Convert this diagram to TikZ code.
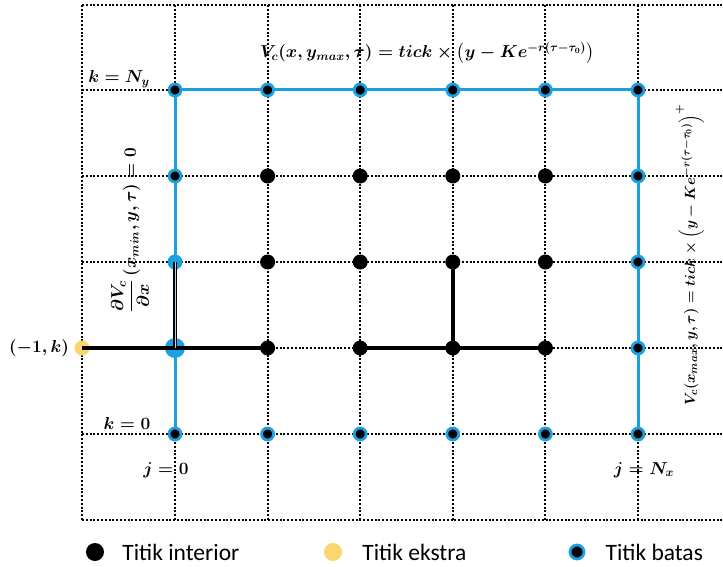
\documentclass[tikz,border=0pt]{standalone}
\usepackage{amsmath}
\usepackage{fontspec}
\newfontfamily\legendfont{Carlito}
\usetikzlibrary{positioning}
\definecolor{batasbiru}{RGB}{27,161,226}
\definecolor{ekstrakuning}{RGB}{250,214,110}
\pgfdeclarelayer{edges}
\pgfsetlayers{edges,main}

\begin{document}
\begin{tikzpicture}[x=1pt,y=-1pt,
  gridline/.style={line width=2pt,dash pattern=on 2pt off 1.8pt},
  interior/.style={circle,fill=black,inner sep=0pt,minimum size=15pt},
  batas/.style={circle,fill=black,draw=batasbiru,line width=2.8pt,inner sep=0pt,minimum size=12pt},
  bataspenuh/.style={circle,fill=batasbiru,inner sep=0pt,minimum size=15pt},
  ekstra/.style={circle,fill=ekstrakuning,inner sep=0pt,minimum size=15pt},
  batasline/.style={batasbiru,line width=3pt},
  stencil/.style={black,line width=4.5pt},
  lbl/.style={font=\fontsize{17}{20}\selectfont\boldmath,inner sep=1pt},
  lblpanjang/.style={font=\fontsize{16.5}{20}\selectfont\boldmath,inner sep=1pt},
  legend/.style={font=\fontsize{23.5}{27}\selectfont\legendfont,anchor=west,inner sep=0pt}]
\useasboundingbox (0,0) rectangle (723,567);
% dotted grid
\begin{pgfonlayer}{edges}
\foreach \xx in {82,175,267.6,360.2,452.8,545.4,638}
  \draw[gridline] (\xx,5) -- (\xx,520);
\foreach \yy in {5,90,176,262,348,434,520}
  \draw[gridline] (82,\yy) -- (723,\yy);
\end{pgfonlayer}
% grid points
\foreach \j in {1,...,4}
  \foreach \k in {1,2,3}
    \node[interior] (p-\j-\k) at ({175+92.6*\j},{434-86*\k}) {};
\foreach \j in {0,...,5} {
  \node[batas] (p-\j-0) at ({175+92.6*\j},434) {};
  \node[batas] (p-\j-4) at ({175+92.6*\j},90) {};
}
\foreach \k in {1,2,3}
  \node[batas] (p-5-\k) at (638,{434-86*\k}) {};
\node[batas] (p-0-3) at (175,176) {};
\node[bataspenuh] (p-0-2) at (175,262) {};
\node[bataspenuh,minimum size=20pt] (p-0-1) at (175,348) {};
\node[ekstra] (p-x-1) at (82,348) {};
% boundary
\begin{pgfonlayer}{edges}
\draw[batasline] (p-0-0.center) -- (p-0-4.center) -- (p-5-4.center) -- (p-5-0.center);
\end{pgfonlayer}
% stencils
\draw[stencil] (p-x-1.center) -- (p-1-1.center);
\draw[black,line width=1.5pt,double=batasbiru!40,double distance=0.8pt] (p-0-2.center) -- (p-0-1.center);
\draw[stencil] (p-2-1.center) -- (p-4-1.center);
\draw[stencil] (p-3-2.center) -- (p-3-1.center);
% labels
\node[lblpanjang] (atas) at (427,53) {$V_c(x, y_{max}, \tau) = tick \times \left(y - Ke^{-r(\tau-\tau_0)}\right)$};
\node[lbl] (kny) at (119,79) {$k = N_y$};
\node[lbl] (k0) at (127,423) {$k = 0$};
\node[lbl] (j0) at (166,470) {$j = 0$};
\node[lbl] (jnx) at (644,470) {$j = N_x$};
\node[lbl] (min1k) at (39,348) {$(-1, k)$};
\node[lblpanjang,rotate=90] (kiri) at (130,230) {$\dfrac{\partial V_c}{\partial x}\left(x_{min}, y, \tau\right) = 0$};
\node[lblpanjang,font=\fontsize{15.8}{19}\selectfont\boldmath,rotate=90] (kanan) at (690,255) {$V_c(x_{max}, y, \tau) = tick \times \left(y - Ke^{-r(\tau-\tau_0)}\right)^+$};
% legend
\node[interior,minimum size=18pt] (leg-int) at (95,552) {};
\node[legend,right=18pt of leg-int] (leg-int-t) {Titik interior};
\node[ekstra,minimum size=18pt] (leg-eks) at (333,552) {};
\node[legend,right=20pt of leg-eks] (leg-eks-t) {Titik ekstra};
\node[batas,minimum size=14pt] (leg-bts) at (577,552) {};
\node[legend,right=20pt of leg-bts] (leg-bts-t) {Titik batas};
\end{tikzpicture}
\end{document}
